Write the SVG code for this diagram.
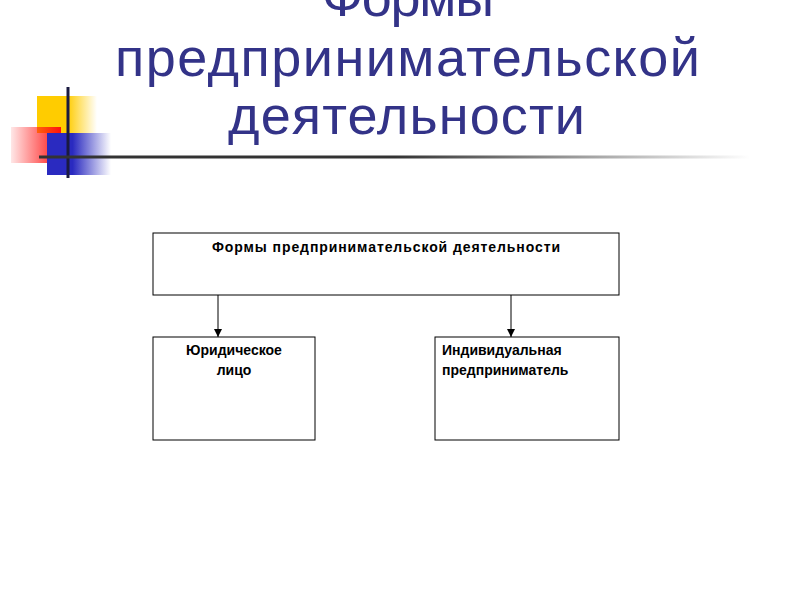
<svg xmlns="http://www.w3.org/2000/svg" width="800" height="600" viewBox="0 0 800 600">
<defs>
<linearGradient id="gy" x1="0" x2="1"><stop offset="0.5" stop-color="#ffcc00"/><stop offset="1" stop-color="#ffcc00" stop-opacity="0"/></linearGradient>
<linearGradient id="gr" x1="1" x2="0"><stop offset="0" stop-color="#ff1010"/><stop offset="1" stop-color="#ff1010" stop-opacity="0.1"/></linearGradient>
<linearGradient id="gb" x1="0" x2="1"><stop offset="0.4" stop-color="#2a2ac0"/><stop offset="1" stop-color="#2a2ac0" stop-opacity="0"/></linearGradient>
<linearGradient id="gl" x1="0" x2="1"><stop offset="0.5" stop-color="#333"/><stop offset="1" stop-color="#333" stop-opacity="0"/></linearGradient>
<marker id="ar" viewBox="0 0 10 10" refX="10" refY="5" markerWidth="8" markerHeight="8" orient="auto"><path d="M0,0L10,5L0,10z" fill="#000"/></marker>
<style>.b{fill:#fff;stroke:#000;stroke-width:1}.t{font-family:"Liberation Sans",Arial,sans-serif;font-size:14px;font-weight:bold}.h{font-family:"Liberation Sans",Arial,sans-serif;font-size:54px;fill:#333388}</style>
</defs>
<rect width="800" height="600" fill="#fff"/>
<rect x="37" y="96" width="60" height="37" fill="url(#gy)"/>
<rect x="11" y="127" width="50" height="36" fill="url(#gr)"/>
<rect x="47" y="133" width="64" height="42" fill="url(#gb)"/>
<rect x="66.5" y="87" width="3" height="91" fill="#1a1a40"/>
<rect x="39" y="155.5" width="711" height="3" fill="url(#gl)"/>
<text class="h" x="322" y="16" textLength="172">Формы</text>
<text class="h" x="115" y="76" textLength="585">предпринимательской</text>
<text class="h" x="228" y="134" textLength="357">деятельности</text>
<g id="top"><rect class="b" x="153" y="233" width="466" height="62"/><text class="t" x="212" y="252" textLength="348">Формы предпринимательской деятельности</text></g>
<g id="left"><rect class="b" x="153" y="337" width="162" height="103"/><text class="t" x="234" y="355" text-anchor="middle">Юридическое</text><text class="t" x="234" y="375" text-anchor="middle">лицо</text></g>
<g id="right"><rect class="b" x="435" y="337" width="184" height="103"/><text class="t" x="442" y="355">Индивидуальная</text><text class="t" x="442" y="375">предприниматель</text></g>
<g id="connectors" stroke="#000" stroke-width="1"><line x1="218" y1="295" x2="218" y2="337" marker-end="url(#ar)"/><line x1="511" y1="295" x2="511" y2="337" marker-end="url(#ar)"/></g>
</svg>
